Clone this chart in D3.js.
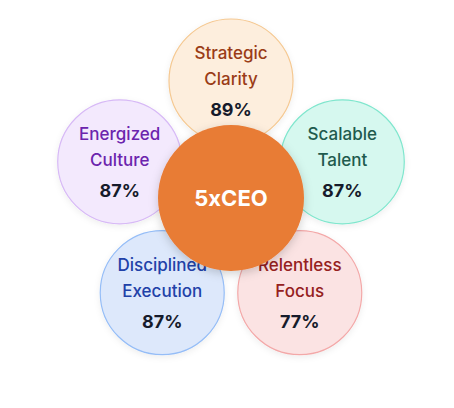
<!DOCTYPE html>
<html>
<head>
    <title>5xCEO Pillars</title>
    <script src="https://cdn.jsdelivr.net/npm/d3@7"></script>
</head>
<body style="margin: 0; background: #fff">
<svg width="454" height="408"></svg>

<script>
    // pillar names (two lines each) and scores
    const lineOne = ["Strategic", "Scalable", "Relentless", "Disciplined", "Energized"];
    const lineTwo = ["Clarity", "Talent", "Focus", "Execution", "Culture"];
    const scores = [89, 87, 77, 87, 87];
    const centerLabel = "5xCEO";

    // colours per pillar
    const fills = ["#fdeedd", "#d6f8ef", "#fbe3e3", "#dde8fb", "#f3e9fd"];
    const strokes = ["#f5c891", "#7fe6cd", "#f3a8a8", "#95bdf7", "#d7b9f6"];
    const textColors = ["#9a3c17", "#1f5b4e", "#952020", "#2141a8", "#6b24ad"];

    const svg = d3.select("svg");
    const cx = 231, cy = 198, dist = 117, rSat = 62, rCenter = 73;
    const font = "Inter, 'Helvetica Neue', Arial, sans-serif";

    const defs = svg.append("defs");
    defs.append("filter").attr("id", "shadow")
        .attr("x", "-30%").attr("y", "-30%").attr("width", "160%").attr("height", "160%")
        .append("feDropShadow")
        .attr("dx", 0).attr("dy", 3).attr("stdDeviation", 5)
        .attr("flood-color", "#000").attr("flood-opacity", 0.18);
    defs.append("filter").attr("id", "softShadow")
        .attr("x", "-30%").attr("y", "-30%").attr("width", "160%").attr("height", "160%")
        .append("feDropShadow")
        .attr("dx", 0).attr("dy", 2).attr("stdDeviation", 3)
        .attr("flood-color", "#000").attr("flood-opacity", 0.07);

    // angle for each pillar, starting at the top, clockwise
    const angle = d3.scaleLinear()
        .domain([0, scores.length])
        .range([-Math.PI / 2, 1.5 * Math.PI]);

    const nodes = scores.map((s, i) => ({
        i,
        x: cx + dist * Math.cos(angle(i)),
        y: cy + dist * Math.sin(angle(i))
    }));

    const sat = svg.selectAll(".pillar")
        .data(nodes)
        .enter().append("g")
        .attr("class", "pillar")
        .attr("transform", d => `translate(${d.x},${d.y})`);

    sat.append("circle")
        .attr("r", rSat)
        .attr("fill", d => fills[d.i])
        .attr("stroke", d => strokes[d.i])
        .attr("stroke-width", 1.2)
        .attr("filter", "url(#softShadow)");

    sat.append("text")
        .attr("y", -22)
        .attr("text-anchor", "middle")
        .attr("font-family", font)
        .attr("font-size", "17px")
        .attr("font-weight", 500)
        .attr("fill", d => textColors[d.i])
        .text(d => lineOne[d.i]);

    sat.append("text")
        .attr("y", 4)
        .attr("text-anchor", "middle")
        .attr("font-family", font)
        .attr("font-size", "17px")
        .attr("font-weight", 500)
        .attr("fill", d => textColors[d.i])
        .text(d => lineTwo[d.i]);

    sat.append("text")
        .attr("y", 35)
        .attr("text-anchor", "middle")
        .attr("font-family", font)
        .attr("font-size", "18px")
        .attr("font-weight", 700)
        .attr("fill", "#161b2b")
        .text(d => scores[d.i] + "%");

    // center circle
    svg.append("circle")
        .attr("cx", cx)
        .attr("cy", cy)
        .attr("r", rCenter)
        .attr("fill", "#e87b35")
        .attr("filter", "url(#shadow)");

    svg.append("text")
        .attr("x", cx)
        .attr("y", cy + 8)
        .attr("text-anchor", "middle")
        .attr("font-family", font)
        .attr("font-size", "22px")
        .attr("font-weight", 700)
        .attr("fill", "#fff")
        .text(centerLabel);
</script>
</body>
</html>
